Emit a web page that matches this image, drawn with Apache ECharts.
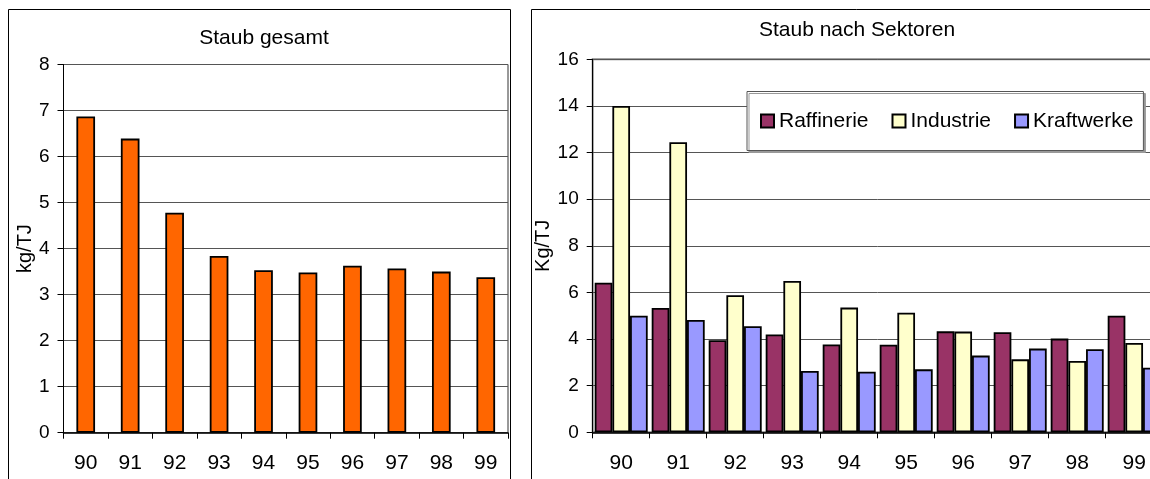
<!DOCTYPE html>
<html>
<head>
<meta charset="utf-8">
<script src="https://cdn.jsdelivr.net/npm/echarts@6/dist/echarts.min.js"></script>
<style>
  html, body { margin: 0; padding: 0; background: #fff; overflow: hidden; width: 1150px; height: 479px; }
  #chart { width: 1180px; height: 479px; }
</style>
</head>
<body>
<div id="chart"></div>
<script>
// ---- data ----
const categories = ['90', '91', '92', '93', '94', '95', '96', '97', '98', '99'];
const gesamt     = [6.87, 6.39, 4.78, 3.84, 3.53, 3.48, 3.63, 3.57, 3.50, 3.38];
const raffinerie = [6.42, 5.33, 3.95, 4.20, 3.77, 3.76, 4.33, 4.29, 4.02, 5.00];
const industrie  = [14.00, 12.44, 5.88, 6.49, 5.35, 5.13, 4.32, 3.13, 3.06, 3.83];
const kraftwerke = [5.00, 4.82, 4.55, 2.63, 2.60, 2.70, 3.29, 3.59, 3.56, 2.77];
const titleLeft = 'Staub gesamt';
const titleRight = 'Staub nach Sektoren';
const seriesNames = ['Raffinerie', 'Industrie', 'Kraftwerke'];

const FONT = '"Liberation Sans", Arial, sans-serif';
const chart = echarts.init(document.getElementById('chart'), null, { renderer: 'canvas' });

const yAxisCommon = {
  type: 'value',
  min: 0,
  nameLocation: 'middle',
  nameRotate: 90,
  nameTextStyle: { fontFamily: FONT, fontSize: 20, color: '#000' },
  axisLine: { show: true, lineStyle: { color: '#000', width: 1 } },
  axisTick: { show: true, length: 6, lineStyle: { color: '#000' } },
  axisLabel: { fontFamily: FONT, fontSize: 19, color: '#000', margin: 14 },
  splitLine: { show: true, lineStyle: { color: '#555', width: 1 } }
};
const xAxisCommon = {
  type: 'category',
  data: categories,
  boundaryGap: true,
  axisLine: { show: true, lineStyle: { color: '#000', width: 1.5 } },
  axisTick: { show: true, length: 6, alignWithLabel: false, lineStyle: { color: '#000' } },
  axisLabel: { fontFamily: FONT, fontSize: 21, color: '#000', margin: 20 },
  splitLine: { show: false }
};

const option = {
  animation: false,
  backgroundColor: '#fff',
  title: [
    { text: titleLeft, left: 259, top: 23, textAlign: 'center',
      textStyle: { fontFamily: FONT, fontSize: 21, fontWeight: 'normal', color: '#000' } },
    { text: titleRight, left: 852, top: 15, textAlign: 'center',
      textStyle: { fontFamily: FONT, fontSize: 21, fontWeight: 'normal', color: '#000' } }
  ],
  grid: [
    { left: 63.5, top: 64.5, width: 444.5, height: 368.2, show: true,
      borderColor: '#333', borderWidth: 1, backgroundColor: '#fff' },
    { left: 592.7, top: 59.3, width: 570, height: 373, show: true,
      borderColor: '#888', borderWidth: 2, backgroundColor: '#fff' }
  ],
  xAxis: [
    Object.assign({}, xAxisCommon, { gridIndex: 0 }),
    Object.assign({}, xAxisCommon, { gridIndex: 1 })
  ],
  yAxis: [
    Object.assign({}, yAxisCommon, { gridIndex: 0, max: 8, interval: 1, name: 'kg/TJ', nameGap: 26 }),
    Object.assign({}, yAxisCommon, { gridIndex: 1, max: 16, interval: 2, name: 'Kg/TJ', nameGap: 34 })
  ],
  legend: {
    data: seriesNames,
    left: 747, top: 91.5,
    orient: 'horizontal',
    itemWidth: 13, itemHeight: 13, itemGap: 23,
    icon: 'rect',
    padding: [19, 10, 19, 13],
    backgroundColor: '#fff',
    borderColor: '#555', borderWidth: 1,
    shadowColor: '#999', shadowOffsetX: 2, shadowOffsetY: 2, shadowBlur: 0,
    textStyle: { fontFamily: FONT, fontSize: 21, color: '#000' }
  },
  series: [
    { name: 'Gesamt', type: 'bar', xAxisIndex: 0, yAxisIndex: 0, data: gesamt,
      barWidth: '42%',
      itemStyle: { color: '#FF6600', borderColor: '#000', borderWidth: 1.8 } },
    { name: seriesNames[0], type: 'bar', xAxisIndex: 1, yAxisIndex: 1, data: raffinerie,
      barGap: '0%', barCategoryGap: '7%',
      itemStyle: { color: '#993366', borderColor: '#000', borderWidth: 1.8 } },
    { name: seriesNames[1], type: 'bar', xAxisIndex: 1, yAxisIndex: 1, data: industrie,
      barGap: '0%', barCategoryGap: '7%',
      itemStyle: { color: '#FFFFCC', borderColor: '#000', borderWidth: 1.8 } },
    { name: seriesNames[2], type: 'bar', xAxisIndex: 1, yAxisIndex: 1, data: kraftwerke,
      barGap: '0%', barCategoryGap: '7%',
      itemStyle: { color: '#9999FF', borderColor: '#000', borderWidth: 1.8 } }
  ],
  graphic: [
    { type: 'rect', silent: true, z: -10,
      shape: { x: 8.5, y: 9.5, width: 502, height: 500 },
      style: { fill: null, stroke: '#000', lineWidth: 1 } },
    { type: 'rect', silent: true, z: -10,
      shape: { x: 531.5, y: 9.5, width: 700, height: 500 },
      style: { fill: null, stroke: '#000', lineWidth: 1 } }
  ]
};
chart.setOption(option);
</script>
</body>
</html>
